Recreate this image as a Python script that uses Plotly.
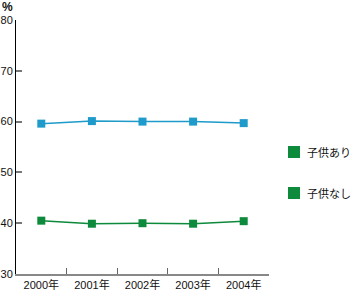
import plotly.graph_objects as go

years = ["2000年", "2001年", "2002年", "2003年", "2004年"]
with_children = [59.6, 60.1, 60.0, 60.0, 59.7]
without_children = [40.5, 39.9, 40.0, 39.9, 40.4]
series_names = ["子供あり", "子供なし"]
y_ticks = [30, 40, 50, 60, 70, 80]

BLUE = "#1e9bcb"
GREEN = "#0e8a3c"
FONT = "Liberation Sans, Arial, Noto Sans CJK JP, sans-serif"

W, H = 353, 297
ML, MR, MT, MB = 16, 84, 20, 23
PW, PH = W - ML - MR, H - MT - MB


def px_x(px):
    return (px - ML) / PW


def px_y(py):
    return (H - MB - py) / PH


fig = go.Figure()
fig.add_trace(go.Scatter(x=years, y=with_children, mode="lines+markers",
                         line=dict(color=BLUE, width=1.5),
                         marker=dict(symbol="square", size=8, color=BLUE),
                         showlegend=False, name=series_names[0]))
fig.add_trace(go.Scatter(x=years, y=without_children, mode="lines+markers",
                         line=dict(color=GREEN, width=1.5),
                         marker=dict(symbol="square", size=8, color=GREEN),
                         showlegend=False, name=series_names[1]))

# legend drawn manually (both keys green as in the reference)
shapes = []
annotations = []
for i, name in enumerate(series_names):
    cy = 152 + 41 * i
    shapes.append(dict(type="rect", xref="paper", yref="paper",
                       x0=px_x(288), x1=px_x(300), y0=px_y(cy + 6), y1=px_y(cy - 6),
                       fillcolor=GREEN, line=dict(width=0)))
    annotations.append(dict(text=name, xref="paper", yref="paper",
                            x=px_x(305), y=px_y(cy), xanchor="left", yanchor="middle",
                            showarrow=False, font=dict(size=11, family=FONT, color="#111")))

annotations.append(dict(text="<b>%</b>", xref="paper", yref="paper",
                        x=px_x(0), y=px_y(-2), xanchor="left", yanchor="top",
                        showarrow=False, font=dict(size=12, family=FONT, color="#111")))

fig.update_layout(
    width=W, height=H,
    margin=dict(l=ML, r=MR, t=MT, b=MB),
    showlegend=False,
    plot_bgcolor="white", paper_bgcolor="white",
    font=dict(family=FONT, size=11, color="#111"),
    xaxis=dict(type="category", range=[-0.5, 4.5], showgrid=False,
               showline=True, linecolor="#888", linewidth=2,
               ticks="inside", ticklen=6, tickcolor="#666", tickwidth=1,
               tickson="boundaries", tickfont=dict(size=11),
               tickangle=0, automargin=False),
    yaxis=dict(range=[30, 80], tickvals=y_ticks, showgrid=False, zeroline=False,
               showline=True, linecolor="#000", linewidth=1,
               ticks="inside", ticklen=6, tickcolor="#777", tickwidth=2,
               tickfont=dict(size=11), automargin=False),
    shapes=shapes,
    annotations=annotations,
)

fig.write_html("out.html")
